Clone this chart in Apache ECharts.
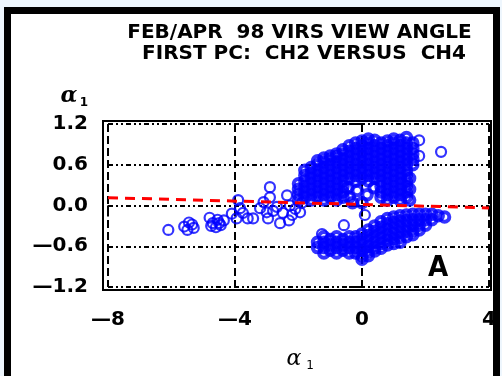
<!DOCTYPE html>
<html><head><meta charset="utf-8">
<script src="https://cdn.jsdelivr.net/npm/echarts@6/dist/echarts.min.js"></script>
<style>
html,body{margin:0;padding:0;background:#eef6fd;}
#frame{position:absolute;left:4px;top:7px;width:482px;height:420px;border:7px solid #000;border-bottom:none;background:#fff;}
#c{position:absolute;left:0;top:0;width:502px;height:376px;}
</style>
</head><body><div id="frame"></div><div id="c"></div>
<script>
const titleLines = ['FEB/APR  98 VIRS VIEW ANGLE', 'FIRST PC:  CH2 VERSUS  CH4'];
const xTicks = [-8, -4, 0, 4];
const xTickLabels = ['\u20148', '\u20144', '0', '4'];
const yTicks = [-1.2, -0.6, 0, 0.6, 1.2];
const yTickLabels = ['\u20141.2', '\u20140.6', '0.0', '0.6', '1.2'];
const axisSymbol = '\u03b1';
const axisSub = '1';
const panelLabel = 'A';

const tailPoints = [
  [-6.1,-0.36],[-5.6,-0.31],[-5.45,-0.25],[-5.3,-0.33],[-5.5,-0.36],[-5.35,-0.28],
  [-4.8,-0.18],[-4.7,-0.26],[-4.55,-0.21],[-4.45,-0.29],[-4.6,-0.32],[-4.35,-0.22],[-4.75,-0.3],[-4.5,-0.26],
  [-4.1,-0.12],[-3.95,-0.19],[-3.9,0.08],[-3.75,-0.11],[-3.6,-0.19],[-3.84,-0.04],
  [-3.43,-0.19],[-3.21,-0.04],[-3.1,0.05],[-2.96,-0.19],[-2.9,0.12],[-2.9,0.27],[-2.68,-0.02],
  [-2.58,-0.26],[-2.49,-0.11],[-2.36,0.15],[-2.27,0.0],[-2.2,-0.14],[-1.95,-0.1],[-1.89,0.04],
  [-3.0,-0.1],[-2.8,-0.08],[-2.3,-0.22],[-2.1,-0.05]
];

const upperLobe = [
  [-2.0,0.08],[-2.0,0.16],[-2.0,0.24],[-2.0,0.32],
  [-1.8,0.12],[-1.8,0.20],[-1.8,0.28],[-1.8,0.36],[-1.8,0.44],[-1.8,0.52],
  [-1.6,0.08],[-1.6,0.16],[-1.6,0.24],[-1.6,0.32],[-1.6,0.40],[-1.6,0.48],[-1.6,0.56],
  [-1.4,0.12],[-1.4,0.20],[-1.4,0.28],[-1.4,0.36],[-1.4,0.44],[-1.4,0.52],[-1.4,0.60],[-1.4,0.66],
  [-1.2,0.08],[-1.2,0.16],[-1.2,0.24],[-1.2,0.32],[-1.2,0.40],[-1.2,0.48],[-1.2,0.56],[-1.2,0.64],[-1.2,0.70],
  [-1.0,0.12],[-1.0,0.20],[-1.0,0.28],[-1.0,0.36],[-1.0,0.44],[-1.0,0.52],[-1.0,0.60],[-1.0,0.68],[-1.0,0.73],
  [-0.8,0.08],[-0.8,0.16],[-0.8,0.24],[-0.8,0.32],[-0.8,0.40],[-0.8,0.48],[-0.8,0.56],[-0.8,0.64],[-0.8,0.72],[-0.8,0.76],
  [-0.6,0.12],[-0.6,0.20],[-0.6,0.28],[-0.6,0.36],[-0.6,0.44],[-0.6,0.52],[-0.6,0.60],[-0.6,0.68],[-0.6,0.76],[-0.6,0.82],
  [-0.4,0.40],[-0.4,0.48],[-0.4,0.56],[-0.4,0.64],[-0.4,0.72],[-0.4,0.80],[-0.4,0.88],
  [-0.2,0.36],[-0.2,0.44],[-0.2,0.52],[-0.2,0.60],[-0.2,0.68],[-0.2,0.76],[-0.2,0.84],[-0.2,0.92],
  [0.0,0.40],[0.0,0.48],[0.0,0.56],[0.0,0.64],[0.0,0.72],[0.0,0.80],[0.0,0.88],[0.0,0.95],
  [0.2,0.36],[0.2,0.44],[0.2,0.52],[0.2,0.60],[0.2,0.68],[0.2,0.76],[0.2,0.84],[0.2,0.92],[0.2,0.98],
  [0.4,0.40],[0.4,0.48],[0.4,0.56],[0.4,0.64],[0.4,0.72],[0.4,0.80],[0.4,0.88],[0.4,0.96],
  [0.6,0.12],[0.6,0.20],[0.6,0.28],[0.6,0.36],[0.6,0.44],[0.6,0.52],[0.6,0.60],[0.6,0.68],[0.6,0.76],[0.6,0.84],[0.6,0.92],
  [0.8,0.08],[0.8,0.16],[0.8,0.24],[0.8,0.32],[0.8,0.40],[0.8,0.48],[0.8,0.56],[0.8,0.64],[0.8,0.72],[0.8,0.80],[0.8,0.88],[0.8,0.95],
  [1.0,0.12],[1.0,0.20],[1.0,0.28],[1.0,0.36],[1.0,0.44],[1.0,0.52],[1.0,0.60],[1.0,0.68],[1.0,0.76],[1.0,0.84],[1.0,0.92],[1.0,0.98],
  [1.2,0.08],[1.2,0.16],[1.2,0.24],[1.2,0.32],[1.2,0.40],[1.2,0.48],[1.2,0.56],[1.2,0.64],[1.2,0.72],[1.2,0.80],[1.2,0.88],[1.2,0.96],
  [1.4,0.12],[1.4,0.20],[1.4,0.28],[1.4,0.36],[1.4,0.44],[1.4,0.52],[1.4,0.60],[1.4,0.68],[1.4,0.76],[1.4,0.84],[1.4,0.92],[1.4,1.00],
  [1.5,0.08],[1.5,0.24],[1.5,0.40],
  [1.6,0.60],[1.6,0.68],[1.6,0.76],[1.6,0.84],[1.6,0.92],
  [-0.4,0.12],[-0.15,0.22],[0.16,0.16],[0.38,0.26],[-0.45,0.26],[-0.3,0.04],[0.0,0.04]
];

const loosePoints = [[1.8,0.96],[1.8,0.73],[2.49,0.79],[-1.26,-0.42],[-0.57,-0.29],[0.09,-0.14]];

const lowerLobe = [
  [-1.4,-0.54],[-1.4,-0.62],
  [-1.2,-0.46],[-1.2,-0.54],[-1.2,-0.62],[-1.2,-0.70],
  [-1.0,-0.50],[-1.0,-0.58],[-1.0,-0.66],
  [-0.8,-0.46],[-0.8,-0.54],[-0.8,-0.62],[-0.8,-0.70],
  [-0.6,-0.50],[-0.6,-0.58],[-0.6,-0.66],
  [-0.4,-0.46],[-0.4,-0.54],[-0.4,-0.62],[-0.4,-0.70],
  [-0.2,-0.46],[-0.2,-0.54],[-0.2,-0.62],[-0.2,-0.70],
  [0.0,-0.42],[0.0,-0.50],[0.0,-0.58],[0.0,-0.66],[0.0,-0.74],[0.0,-0.79],
  [0.2,-0.36],[0.2,-0.44],[0.2,-0.52],[0.2,-0.60],[0.2,-0.68],[0.2,-0.74],
  [0.4,-0.30],[0.4,-0.38],[0.4,-0.46],[0.4,-0.54],[0.4,-0.62],[0.4,-0.67],
  [0.6,-0.24],[0.6,-0.32],[0.6,-0.40],[0.6,-0.48],[0.6,-0.56],[0.6,-0.63],
  [0.8,-0.19],[0.8,-0.27],[0.8,-0.35],[0.8,-0.43],[0.8,-0.51],[0.8,-0.58],
  [1.0,-0.17],[1.0,-0.25],[1.0,-0.33],[1.0,-0.41],[1.0,-0.49],[1.0,-0.56],
  [1.2,-0.15],[1.2,-0.23],[1.2,-0.31],[1.2,-0.39],[1.2,-0.47],[1.2,-0.54],
  [1.4,-0.14],[1.4,-0.22],[1.4,-0.30],[1.4,-0.38],[1.4,-0.46],
  [1.6,-0.13],[1.6,-0.21],[1.6,-0.29],[1.6,-0.37],[1.6,-0.43],
  [1.8,-0.13],[1.8,-0.21],[1.8,-0.29],[1.8,-0.36],
  [2.0,-0.13],[2.0,-0.21],[2.0,-0.29],
  [2.2,-0.13],[2.2,-0.21],
  [2.4,-0.15],[2.6,-0.17]
];

const fitLine = [[-8, 0.115], [4, -0.035]];

function tickLabel(ticks, labels, v) {
  const i = ticks.findIndex(t => Math.abs(t - v) < 1e-6);
  return i < 0 ? '' : labels[i];
}

const chart = echarts.init(document.getElementById('c'), null, {renderer: 'canvas'});
const labelFont = {fontFamily: 'DejaVu Sans', fontWeight: 'bold', fontSize: 20, color: '#000'};
const ringStyle = {color: 'rgba(0,0,0,0)', borderColor: '#0000ff', borderWidth: 2.2};
const denseRing = {color: 'rgba(0,0,0,0)', borderColor: '#0000ff', borderWidth: 4};
const txt = (t, x, y, font) => ({type: 'text', x: x, y: y, silent: true,
  style: {text: t, font: font, fill: '#000', align: 'center', verticalAlign: 'middle', textAlign: 'center', textVerticalAlign: 'middle'}});

chart.setOption({
  backgroundColor: 'transparent',
  animation: false,
  grid: {left: 108, right: 13, top: 124, bottom: 89},
  xAxis: {
    type: 'value', min: -8, max: 4, interval: 4,
    axisLine: {show: false},
    axisTick: {show: true, length: 11, lineStyle: {color: '#000', width: 2}},
    axisLabel: Object.assign({margin: 23, formatter: v => tickLabel(xTicks, xTickLabels, v)}, labelFont),
    splitLine: {show: true, lineStyle: {color: '#000', width: 2, type: [8, 4]}}
  },
  yAxis: {
    type: 'value', min: -1.2, max: 1.2, interval: 0.6,
    axisLine: {show: false},
    axisTick: {show: true, length: 13, lineStyle: {color: '#000', width: 2}},
    axisLabel: Object.assign({margin: 20, formatter: v => tickLabel(yTicks, yTickLabels, v)}, labelFont),
    splitLine: {show: true, lineStyle: {color: '#000', width: 2, type: [5, 3, 2, 3, 2, 3]}}
  },
  graphic: [
    {type: 'rect', z: 100, silent: true, shape: {x: 103, y: 121, width: 388, height: 169},
     style: {fill: 'none', stroke: '#000', lineWidth: 2}},
    txt(titleLines[0], 299.5, 32.5, 'bold 20px "DejaVu Sans"'),
    txt(titleLines[1], 304, 54, 'bold 20px "DejaVu Sans"'),
    txt(axisSymbol, 69, 96, 'italic bold 22px "DejaVu Serif"'),
    txt(axisSub, 84, 103, 'bold 12px "DejaVu Sans"'),
    txt(axisSymbol, 294, 359, 'italic 22px "DejaVu Serif"'),
    txt(axisSub, 310, 366, '12px "DejaVu Sans"'),
    txt(panelLabel, 438, 268, 'bold 29px "DejaVu Sans Condensed", "Liberation Sans"')
  ],
  series: [
    {type: 'scatter', data: tailPoints, symbol: 'circle', symbolSize: 10, itemStyle: ringStyle, z: 3},
    {type: 'scatter', data: loosePoints, symbol: 'circle', symbolSize: 10, itemStyle: ringStyle, z: 3},
    {type: 'scatter', data: upperLobe, symbol: 'circle', symbolSize: 9.5, itemStyle: denseRing, z: 3},
    {type: 'scatter', data: lowerLobe, symbol: 'circle', symbolSize: 9.5, itemStyle: denseRing, z: 3},
    {type: 'line', data: fitLine, symbol: 'none', z: 5,
     lineStyle: {color: '#ff0000', width: 3, type: [10, 7]}}
  ]
});
</script>
</body></html>
